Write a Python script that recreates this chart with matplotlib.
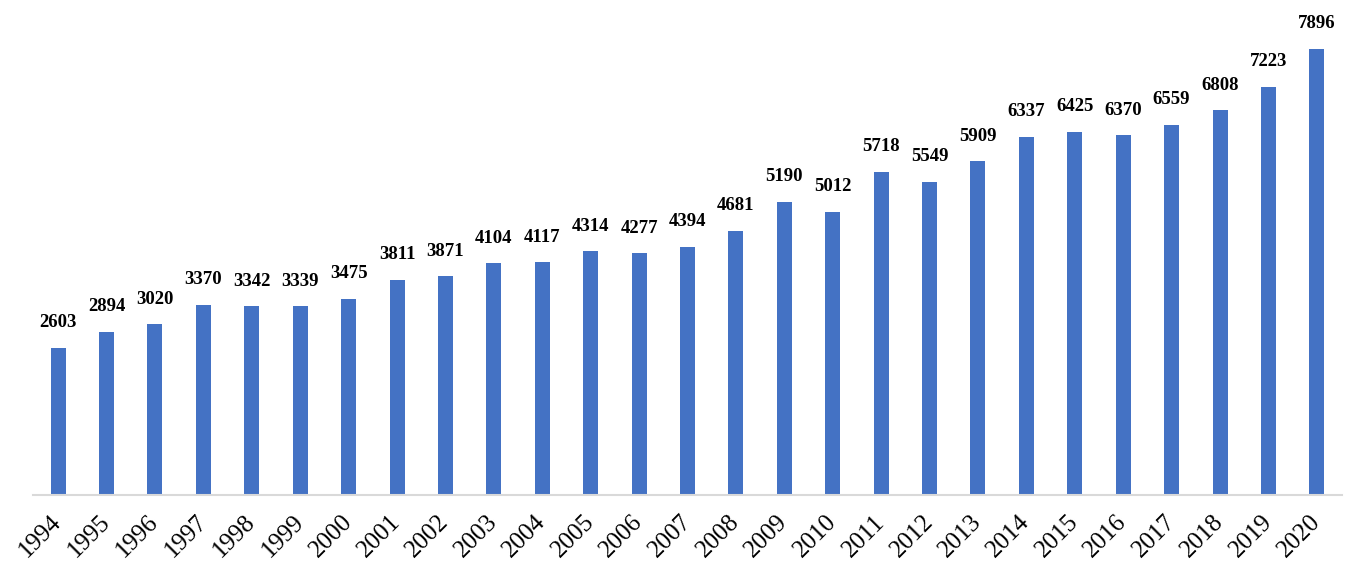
import matplotlib.pyplot as plt
import numpy as np

years = [str(y) for y in range(1994, 2021)]
values = [2603, 2894, 3020, 3370, 3342, 3339, 3475, 3811, 3871, 4104, 4117,
          4314, 4277, 4394, 4681, 5190, 5012, 5718, 5549, 5909, 6337, 6425,
          6370, 6559, 6808, 7223, 7896]

plt.rcParams['font.family'] = ['Liberation Serif', 'DejaVu Serif']

fig = plt.figure(figsize=(13.58, 5.86), dpi=100)
ax = fig.add_axes([33 / 1358, 1 - 495 / 586, (1342 - 33) / 1358, 475 / 586])

x = np.arange(len(years))
bars = ax.bar(x, values, width=0.31, color='#4472C4')

# value labels above bars
for xi, v in zip(x, values):
    ax.annotate(str(v), (xi, v), xytext=(0, 12), textcoords='offset points',
                ha='center', va='bottom', fontsize=13.5, fontweight='bold')

ax.set_xlim(-0.52, len(years) - 0.48)
ax.set_ylim(0, 7896 * 475 / 446)
ax.set_xticks(x)
ax.set_xticklabels(years, rotation=45, ha='right', va='center',
                   rotation_mode='anchor', fontsize=18)
ax.tick_params(axis='x', length=0, pad=17)
ax.set_yticks([])
for s in ['top', 'right', 'left']:
    ax.spines[s].set_visible(False)
ax.spines['bottom'].set_color('#D9D9D9')
ax.spines['bottom'].set_linewidth(1.5)

fig.savefig('out.png', dpi=100)
